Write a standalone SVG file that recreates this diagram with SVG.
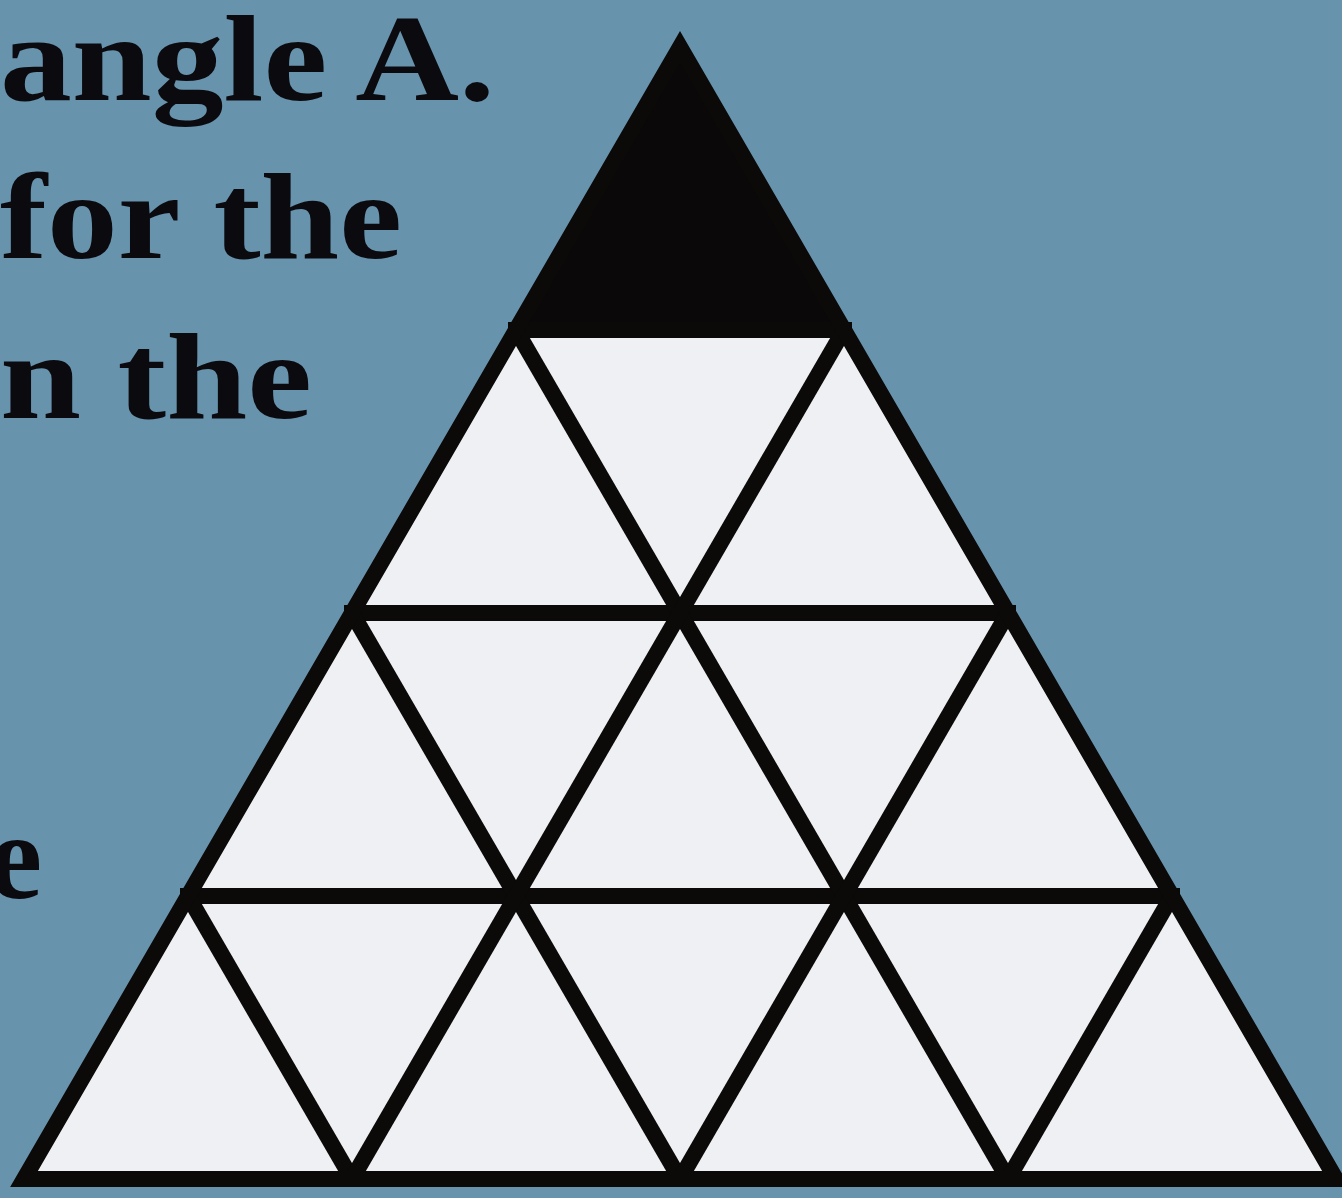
<svg xmlns="http://www.w3.org/2000/svg" width="1342" height="1198" viewBox="0 0 1342 1198">
<style>
.t{font-family:"Liberation Serif","DejaVu Serif",serif;font-weight:bold;font-size:122px;fill:#0a0a0f}
.ln{stroke:#0c0909;stroke-width:16;fill:none;stroke-linecap:butt}
</style>
<rect width="1342" height="1198" fill="#6893ad"/>
<g id="text">
<text class="t" x="0" y="100" textLength="495" lengthAdjust="spacingAndGlyphs">angle A.</text>
<text class="t" x="0" y="258" textLength="402" lengthAdjust="spacingAndGlyphs">for the</text>
<text class="t" x="0" y="418" textLength="312" lengthAdjust="spacingAndGlyphs">n the</text>
<text class="t" x="-12" y="898">e</text>
</g>
<g id="triangle">
<polygon points="680,47 24,1179 1336,1179" fill="#eef0f3"/>
<polygon points="680,47 516,330 844,330" fill="#0a0808"/>
</g>
<g id="connectors">
<line class="ln" x1="508" y1="330" x2="852" y2="330"/>
<line class="ln" x1="344" y1="613" x2="1016" y2="613"/>
<line class="ln" x1="180" y1="896" x2="1180" y2="896"/>
<line class="ln" x1="516" y1="330" x2="1008" y2="1179"/>
<line class="ln" x1="352" y1="613" x2="680" y2="1179"/>
<line class="ln" x1="188" y1="896" x2="352" y2="1179"/>
<line class="ln" x1="844" y1="330" x2="352" y2="1179"/>
<line class="ln" x1="1008" y1="613" x2="680" y2="1179"/>
<line class="ln" x1="1172" y1="896" x2="1008" y2="1179"/>
<polygon class="ln" points="680,47 24,1179 1336,1179" stroke-linejoin="miter" stroke-miterlimit="10"/>
</g>
</svg>
